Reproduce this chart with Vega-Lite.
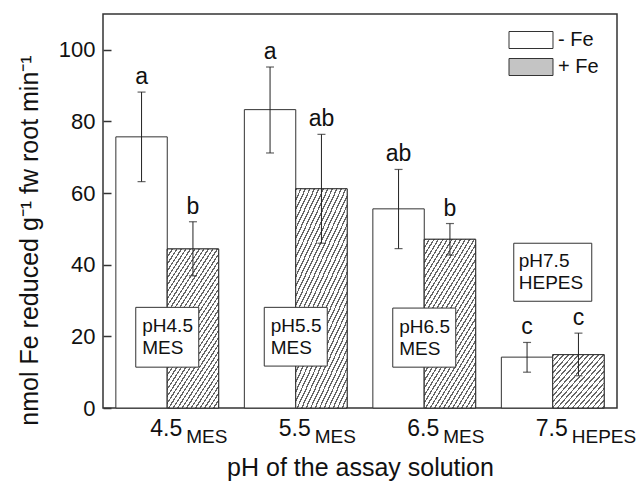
{
  "$schema": "https://vega.github.io/schema/vega-lite/v6.json",
  "width": 514,
  "height": 394,
  "autosize": {"type": "none"},
  "padding": {"left": 103, "top": 14, "right": 24, "bottom": 81},
  "config": {
    "font": "Liberation Sans",
    "view": {"stroke": "#333", "strokeWidth": 1.5},
    "text": {"font": "Liberation Sans", "color": "#111"}
  },
  "datasets": {
    "bars": [
      {"pH": "4.5", "Fe": "- Fe", "mean": 75.7, "lo": 63.2, "hi": 88.2, "sig": "a"},
      {"pH": "4.5", "Fe": "+ Fe", "mean": 44.4, "lo": 36.9, "hi": 52.0, "sig": "b"},
      {"pH": "5.5", "Fe": "- Fe", "mean": 83.3, "lo": 71.2, "hi": 95.2, "sig": "a"},
      {"pH": "5.5", "Fe": "+ Fe", "mean": 61.2, "lo": 46.0, "hi": 76.4, "sig": "ab"},
      {"pH": "6.5", "Fe": "- Fe", "mean": 55.6, "lo": 44.5, "hi": 66.6, "sig": "ab"},
      {"pH": "6.5", "Fe": "+ Fe", "mean": 47.1, "lo": 42.7, "hi": 51.5, "sig": "b"},
      {"pH": "7.5", "Fe": "- Fe", "mean": 14.2, "lo": 10.0, "hi": 18.3, "sig": "c"},
      {"pH": "7.5", "Fe": "+ Fe", "mean": 14.9, "lo": 9.0, "hi": 20.9, "sig": "c"}
    ],
    "xlabels": [
      {"pH": "4.5", "sub": "MES"},
      {"pH": "5.5", "sub": "MES"},
      {"pH": "6.5", "sub": "MES"},
      {"pH": "7.5", "sub": "HEPES"}
    ],
    "boxes": [
      {"pH": "4.5", "top": 28.1, "bot": 11.4, "mid": 19.8, "label": "pH4.5\nMES"},
      {"pH": "5.5", "top": 28.1, "bot": 11.7, "mid": 19.9, "label": "pH5.5\nMES"},
      {"pH": "6.5", "top": 27.9, "bot": 11.4, "mid": 19.6, "label": "pH6.5\nMES"}
    ],
    "box4": [
      {"pH": "7.5", "top": 46.0, "bot": 29.8, "mid": 37.9, "label": "pH7.5\nHEPES"}
    ]
  },
  "layer": [
    {
      "data": {"name": "bars"},
      "mark": {"type": "bar", "stroke": "#333", "strokeWidth": 1, "opacity": 1},
      "encoding": {
        "x": {
          "field": "pH", "type": "nominal", "sort": ["4.5", "5.5", "6.5", "7.5"],
          "scale": {"paddingInner": 0.2, "paddingOuter": 0.1},
          "title": "pH of the assay solution",
          "axis": {"labels": false, "ticks": false, "domain": false, "titleFontSize": 25, "titleFontWeight": "normal", "titleColor": "#111", "titlePadding": 47}
        },
        "xOffset": {"field": "Fe", "type": "nominal", "sort": ["- Fe", "+ Fe"], "scale": {"paddingInner": 0, "paddingOuter": 0}},
        "y": {
          "field": "mean", "type": "quantitative",
          "scale": {"domain": [0, 110], "nice": false},
          "title": "nmol Fe reduced g⁻¹ fw root min⁻¹",
          "axis": {
            "values": [0, 20, 40, 60, 80, 100], "grid": false, "domain": false,
            "tickSize": -8, "tickColor": "#333", "tickWidth": 1.5,
            "labelFontSize": 22, "labelColor": "#111", "labelPadding": 16,
            "titleFontSize": 25, "titleFontWeight": "normal", "titleColor": "#111",
            "titleX": -74, "titleY": 226, "titleAlign": "center", "titleBaseline": "middle", "titleAngle": -90
          }
        },
        "fill": {
          "field": "Fe", "type": "nominal",
          "scale": {"domain": ["- Fe", "+ Fe"], "range": ["#ffffff", "#c4c4c4"]},
          "legend": {
            "orient": "none", "legendX": 404, "legendY": 16, "title": null, "padding": 0,
            "symbolType": "M-2.588,-1H2.588V1H-2.588Z", "symbolSize": 289,
            "symbolStrokeColor": "#333", "symbolStrokeWidth": 1, "symbolOpacity": 1,
            "symbolOffset": 14, "labelOffset": 17, "labelFontSize": 20, "labelColor": "#111",
            "rowPadding": 5
          }
        }
      }
    },
    {
      "data": {"name": "bars"},
      "transform": [{"filter": "datum.Fe == '+ Fe' && datum.pH != '7.5'"}],
      "mark": {"type": "bar", "stroke": "#333", "strokeWidth": 1,
        "fill": {"gradient": "linear", "x1": 0, "y1": 0, "x2": 0.7, "y2": 1.4, "stops": [
                {"offset": 0, "color": "#666"}, {"offset": 0.008, "color": "#666"}, {"offset": 0.008, "color": "#fff"}, {"offset": 0.025, "color": "#fff"},
                {"offset": 0.025, "color": "#666"}, {"offset": 0.033, "color": "#666"}, {"offset": 0.033, "color": "#fff"}, {"offset": 0.05, "color": "#fff"},
                {"offset": 0.05, "color": "#666"}, {"offset": 0.058, "color": "#666"}, {"offset": 0.058, "color": "#fff"}, {"offset": 0.075, "color": "#fff"},
                {"offset": 0.075, "color": "#666"}, {"offset": 0.083, "color": "#666"}, {"offset": 0.083, "color": "#fff"}, {"offset": 0.1, "color": "#fff"},
                {"offset": 0.1, "color": "#666"}, {"offset": 0.108, "color": "#666"}, {"offset": 0.108, "color": "#fff"}, {"offset": 0.125, "color": "#fff"},
                {"offset": 0.125, "color": "#666"}, {"offset": 0.133, "color": "#666"}, {"offset": 0.133, "color": "#fff"}, {"offset": 0.15, "color": "#fff"},
                {"offset": 0.15, "color": "#666"}, {"offset": 0.158, "color": "#666"}, {"offset": 0.158, "color": "#fff"}, {"offset": 0.175, "color": "#fff"},
                {"offset": 0.175, "color": "#666"}, {"offset": 0.183, "color": "#666"}, {"offset": 0.183, "color": "#fff"}, {"offset": 0.2, "color": "#fff"},
                {"offset": 0.2, "color": "#666"}, {"offset": 0.208, "color": "#666"}, {"offset": 0.208, "color": "#fff"}, {"offset": 0.225, "color": "#fff"},
                {"offset": 0.225, "color": "#666"}, {"offset": 0.233, "color": "#666"}, {"offset": 0.233, "color": "#fff"}, {"offset": 0.25, "color": "#fff"},
                {"offset": 0.25, "color": "#666"}, {"offset": 0.258, "color": "#666"}, {"offset": 0.258, "color": "#fff"}, {"offset": 0.275, "color": "#fff"},
                {"offset": 0.275, "color": "#666"}, {"offset": 0.283, "color": "#666"}, {"offset": 0.283, "color": "#fff"}, {"offset": 0.3, "color": "#fff"},
                {"offset": 0.3, "color": "#666"}, {"offset": 0.308, "color": "#666"}, {"offset": 0.308, "color": "#fff"}, {"offset": 0.325, "color": "#fff"},
                {"offset": 0.325, "color": "#666"}, {"offset": 0.333, "color": "#666"}, {"offset": 0.333, "color": "#fff"}, {"offset": 0.35, "color": "#fff"},
                {"offset": 0.35, "color": "#666"}, {"offset": 0.358, "color": "#666"}, {"offset": 0.358, "color": "#fff"}, {"offset": 0.375, "color": "#fff"},
                {"offset": 0.375, "color": "#666"}, {"offset": 0.383, "color": "#666"}, {"offset": 0.383, "color": "#fff"}, {"offset": 0.4, "color": "#fff"},
                {"offset": 0.4, "color": "#666"}, {"offset": 0.408, "color": "#666"}, {"offset": 0.408, "color": "#fff"}, {"offset": 0.425, "color": "#fff"},
                {"offset": 0.425, "color": "#666"}, {"offset": 0.433, "color": "#666"}, {"offset": 0.433, "color": "#fff"}, {"offset": 0.45, "color": "#fff"},
                {"offset": 0.45, "color": "#666"}, {"offset": 0.458, "color": "#666"}, {"offset": 0.458, "color": "#fff"}, {"offset": 0.475, "color": "#fff"},
                {"offset": 0.475, "color": "#666"}, {"offset": 0.483, "color": "#666"}, {"offset": 0.483, "color": "#fff"}, {"offset": 0.5, "color": "#fff"},
                {"offset": 0.5, "color": "#666"}, {"offset": 0.508, "color": "#666"}, {"offset": 0.508, "color": "#fff"}, {"offset": 0.525, "color": "#fff"},
                {"offset": 0.525, "color": "#666"}, {"offset": 0.533, "color": "#666"}, {"offset": 0.533, "color": "#fff"}, {"offset": 0.55, "color": "#fff"},
                {"offset": 0.55, "color": "#666"}, {"offset": 0.558, "color": "#666"}, {"offset": 0.558, "color": "#fff"}, {"offset": 0.575, "color": "#fff"},
                {"offset": 0.575, "color": "#666"}, {"offset": 0.583, "color": "#666"}, {"offset": 0.583, "color": "#fff"}, {"offset": 0.6, "color": "#fff"},
                {"offset": 0.6, "color": "#666"}, {"offset": 0.608, "color": "#666"}, {"offset": 0.608, "color": "#fff"}, {"offset": 0.625, "color": "#fff"},
                {"offset": 0.625, "color": "#666"}, {"offset": 0.633, "color": "#666"}, {"offset": 0.633, "color": "#fff"}, {"offset": 0.65, "color": "#fff"},
                {"offset": 0.65, "color": "#666"}, {"offset": 0.658, "color": "#666"}, {"offset": 0.658, "color": "#fff"}, {"offset": 0.675, "color": "#fff"},
                {"offset": 0.675, "color": "#666"}, {"offset": 0.683, "color": "#666"}, {"offset": 0.683, "color": "#fff"}, {"offset": 0.7, "color": "#fff"},
                {"offset": 0.7, "color": "#666"}, {"offset": 0.708, "color": "#666"}, {"offset": 0.708, "color": "#fff"}, {"offset": 0.725, "color": "#fff"},
                {"offset": 0.725, "color": "#666"}, {"offset": 0.733, "color": "#666"}, {"offset": 0.733, "color": "#fff"}, {"offset": 0.75, "color": "#fff"},
                {"offset": 0.75, "color": "#666"}, {"offset": 0.758, "color": "#666"}, {"offset": 0.758, "color": "#fff"}, {"offset": 0.775, "color": "#fff"},
                {"offset": 0.775, "color": "#666"}, {"offset": 0.783, "color": "#666"}, {"offset": 0.783, "color": "#fff"}, {"offset": 0.8, "color": "#fff"},
                {"offset": 0.8, "color": "#666"}, {"offset": 0.808, "color": "#666"}, {"offset": 0.808, "color": "#fff"}, {"offset": 0.825, "color": "#fff"},
                {"offset": 0.825, "color": "#666"}, {"offset": 0.833, "color": "#666"}, {"offset": 0.833, "color": "#fff"}, {"offset": 0.85, "color": "#fff"},
                {"offset": 0.85, "color": "#666"}, {"offset": 0.858, "color": "#666"}, {"offset": 0.858, "color": "#fff"}, {"offset": 0.875, "color": "#fff"},
                {"offset": 0.875, "color": "#666"}, {"offset": 0.883, "color": "#666"}, {"offset": 0.883, "color": "#fff"}, {"offset": 1, "color": "#fff"}
        ]}
      },
      "encoding": {
        "x": {"field": "pH", "type": "nominal", "sort": ["4.5", "5.5", "6.5", "7.5"], "title": "pH of the assay solution"},
        "xOffset": {"field": "Fe", "type": "nominal", "sort": ["- Fe", "+ Fe"]},
        "y": {"field": "mean", "type": "quantitative", "title": "nmol Fe reduced g⁻¹ fw root min⁻¹"}
      }
    },
    {
      "data": {"name": "bars"},
      "transform": [{"filter": "datum.Fe == '+ Fe' && datum.pH == '7.5'"}],
      "mark": {"type": "bar", "stroke": "#333", "strokeWidth": 1,
        "fill": {"gradient": "linear", "x1": 0, "y1": 0, "x2": 2.15, "y2": 1.935, "stops": [
                {"offset": 0, "color": "#666"}, {"offset": 0.008, "color": "#666"}, {"offset": 0.008, "color": "#fff"}, {"offset": 0.025, "color": "#fff"},
                {"offset": 0.025, "color": "#666"}, {"offset": 0.033, "color": "#666"}, {"offset": 0.033, "color": "#fff"}, {"offset": 0.05, "color": "#fff"},
                {"offset": 0.05, "color": "#666"}, {"offset": 0.058, "color": "#666"}, {"offset": 0.058, "color": "#fff"}, {"offset": 0.075, "color": "#fff"},
                {"offset": 0.075, "color": "#666"}, {"offset": 0.083, "color": "#666"}, {"offset": 0.083, "color": "#fff"}, {"offset": 0.1, "color": "#fff"},
                {"offset": 0.1, "color": "#666"}, {"offset": 0.108, "color": "#666"}, {"offset": 0.108, "color": "#fff"}, {"offset": 0.125, "color": "#fff"},
                {"offset": 0.125, "color": "#666"}, {"offset": 0.133, "color": "#666"}, {"offset": 0.133, "color": "#fff"}, {"offset": 0.15, "color": "#fff"},
                {"offset": 0.15, "color": "#666"}, {"offset": 0.158, "color": "#666"}, {"offset": 0.158, "color": "#fff"}, {"offset": 0.175, "color": "#fff"},
                {"offset": 0.175, "color": "#666"}, {"offset": 0.183, "color": "#666"}, {"offset": 0.183, "color": "#fff"}, {"offset": 0.2, "color": "#fff"},
                {"offset": 0.2, "color": "#666"}, {"offset": 0.208, "color": "#666"}, {"offset": 0.208, "color": "#fff"}, {"offset": 0.225, "color": "#fff"},
                {"offset": 0.225, "color": "#666"}, {"offset": 0.233, "color": "#666"}, {"offset": 0.233, "color": "#fff"}, {"offset": 0.25, "color": "#fff"},
                {"offset": 0.25, "color": "#666"}, {"offset": 0.258, "color": "#666"}, {"offset": 0.258, "color": "#fff"}, {"offset": 0.275, "color": "#fff"},
                {"offset": 0.275, "color": "#666"}, {"offset": 0.283, "color": "#666"}, {"offset": 0.283, "color": "#fff"}, {"offset": 0.3, "color": "#fff"},
                {"offset": 0.3, "color": "#666"}, {"offset": 0.308, "color": "#666"}, {"offset": 0.308, "color": "#fff"}, {"offset": 0.325, "color": "#fff"},
                {"offset": 0.325, "color": "#666"}, {"offset": 0.333, "color": "#666"}, {"offset": 0.333, "color": "#fff"}, {"offset": 0.35, "color": "#fff"},
                {"offset": 0.35, "color": "#666"}, {"offset": 0.358, "color": "#666"}, {"offset": 0.358, "color": "#fff"}, {"offset": 0.375, "color": "#fff"},
                {"offset": 0.375, "color": "#666"}, {"offset": 0.383, "color": "#666"}, {"offset": 0.383, "color": "#fff"}, {"offset": 0.4, "color": "#fff"},
                {"offset": 0.4, "color": "#666"}, {"offset": 0.408, "color": "#666"}, {"offset": 0.408, "color": "#fff"}, {"offset": 0.425, "color": "#fff"},
                {"offset": 0.425, "color": "#666"}, {"offset": 0.433, "color": "#666"}, {"offset": 0.433, "color": "#fff"}, {"offset": 0.45, "color": "#fff"},
                {"offset": 0.45, "color": "#666"}, {"offset": 0.458, "color": "#666"}, {"offset": 0.458, "color": "#fff"}, {"offset": 0.475, "color": "#fff"},
                {"offset": 0.475, "color": "#666"}, {"offset": 0.483, "color": "#666"}, {"offset": 0.483, "color": "#fff"}, {"offset": 0.5, "color": "#fff"},
                {"offset": 0.5, "color": "#666"}, {"offset": 0.508, "color": "#666"}, {"offset": 0.508, "color": "#fff"}, {"offset": 1, "color": "#fff"}
        ]}
      },
      "encoding": {
        "x": {"field": "pH", "type": "nominal", "sort": ["4.5", "5.5", "6.5", "7.5"], "title": "pH of the assay solution"},
        "xOffset": {"field": "Fe", "type": "nominal", "sort": ["- Fe", "+ Fe"]},
        "y": {"field": "mean", "type": "quantitative", "title": "nmol Fe reduced g⁻¹ fw root min⁻¹"}
      }
    },
    {
      "data": {"name": "bars"},
      "mark": {"type": "rule", "color": "#222", "strokeWidth": 1},
      "encoding": {
        "x": {"field": "pH", "type": "nominal", "sort": ["4.5", "5.5", "6.5", "7.5"], "title": "pH of the assay solution"},
        "xOffset": {"field": "Fe", "type": "nominal", "sort": ["- Fe", "+ Fe"]},
        "y": {"field": "lo", "type": "quantitative", "title": "nmol Fe reduced g⁻¹ fw root min⁻¹"},
        "y2": {"field": "hi"}
      }
    },
    {
      "data": {"name": "bars"},
      "mark": {"type": "tick", "color": "#222", "size": 8, "thickness": 1.2, "orient": "horizontal"},
      "encoding": {
        "x": {"field": "pH", "type": "nominal", "sort": ["4.5", "5.5", "6.5", "7.5"], "title": "pH of the assay solution"},
        "xOffset": {"field": "Fe", "type": "nominal", "sort": ["- Fe", "+ Fe"]},
        "y": {"field": "lo", "type": "quantitative", "title": "nmol Fe reduced g⁻¹ fw root min⁻¹"}
      }
    },
    {
      "data": {"name": "bars"},
      "mark": {"type": "tick", "color": "#222", "size": 8, "thickness": 1.2, "orient": "horizontal"},
      "encoding": {
        "x": {"field": "pH", "type": "nominal", "sort": ["4.5", "5.5", "6.5", "7.5"], "title": "pH of the assay solution"},
        "xOffset": {"field": "Fe", "type": "nominal", "sort": ["- Fe", "+ Fe"]},
        "y": {"field": "hi", "type": "quantitative", "title": "nmol Fe reduced g⁻¹ fw root min⁻¹"}
      }
    },
    {
      "data": {"name": "bars"},
      "mark": {"type": "text", "fontSize": 23, "baseline": "alphabetic", "dy": -8},
      "encoding": {
        "x": {"field": "pH", "type": "nominal", "sort": ["4.5", "5.5", "6.5", "7.5"], "title": "pH of the assay solution"},
        "xOffset": {"field": "Fe", "type": "nominal", "sort": ["- Fe", "+ Fe"]},
        "y": {"field": "hi", "type": "quantitative", "title": "nmol Fe reduced g⁻¹ fw root min⁻¹"},
        "text": {"field": "sig"}
      }
    },
    {
      "data": {"name": "boxes"},
      "mark": {"type": "bar", "width": 63, "fill": "white", "stroke": "#333", "strokeWidth": 1},
      "encoding": {
        "x": {"field": "pH", "type": "nominal", "sort": ["4.5", "5.5", "6.5", "7.5"], "title": "pH of the assay solution"},
        "y": {"field": "top", "type": "quantitative", "title": "nmol Fe reduced g⁻¹ fw root min⁻¹"},
        "y2": {"field": "bot"}
      }
    },
    {
      "data": {"name": "box4"},
      "mark": {"type": "bar", "width": 78, "fill": "white", "stroke": "#333", "strokeWidth": 1},
      "encoding": {
        "x": {"field": "pH", "type": "nominal", "sort": ["4.5", "5.5", "6.5", "7.5"], "title": "pH of the assay solution"},
        "y": {"field": "top", "type": "quantitative", "title": "nmol Fe reduced g⁻¹ fw root min⁻¹"},
        "y2": {"field": "bot"}
      }
    },
    {
      "data": {"name": "boxes"},
      "mark": {"type": "text", "fontSize": 19, "align": "left", "baseline": "middle", "lineBreak": "\n", "lineHeight": 22, "dx": -25, "dy": -11},
      "encoding": {
        "x": {"field": "pH", "type": "nominal", "sort": ["4.5", "5.5", "6.5", "7.5"], "title": "pH of the assay solution"},
        "y": {"field": "mid", "type": "quantitative", "title": "nmol Fe reduced g⁻¹ fw root min⁻¹"},
        "text": {"field": "label"}
      }
    },
    {
      "data": {"name": "box4"},
      "mark": {"type": "text", "fontSize": 19, "align": "left", "baseline": "middle", "lineBreak": "\n", "lineHeight": 22, "dx": -34, "dy": -11},
      "encoding": {
        "x": {"field": "pH", "type": "nominal", "sort": ["4.5", "5.5", "6.5", "7.5"], "title": "pH of the assay solution"},
        "y": {"field": "mid", "type": "quantitative", "title": "nmol Fe reduced g⁻¹ fw root min⁻¹"},
        "text": {"field": "label"}
      }
    },
    {
      "data": {"name": "xlabels"},
      "mark": {"type": "text", "fontSize": 23, "align": "left", "baseline": "alphabetic", "dx": -17, "dy": 28},
      "encoding": {
        "x": {"field": "pH", "type": "nominal", "sort": ["4.5", "5.5", "6.5", "7.5"], "title": "pH of the assay solution"},
        "y": {"datum": 0, "type": "quantitative"},
        "text": {"field": "pH"}
      }
    },
    {
      "data": {"name": "xlabels"},
      "mark": {"type": "text", "fontSize": 19, "align": "left", "baseline": "alphabetic", "dx": 19, "dy": 35},
      "encoding": {
        "x": {"field": "pH", "type": "nominal", "sort": ["4.5", "5.5", "6.5", "7.5"], "title": "pH of the assay solution"},
        "y": {"datum": 0, "type": "quantitative"},
        "text": {"field": "sub"}
      }
    }
  ]
}
